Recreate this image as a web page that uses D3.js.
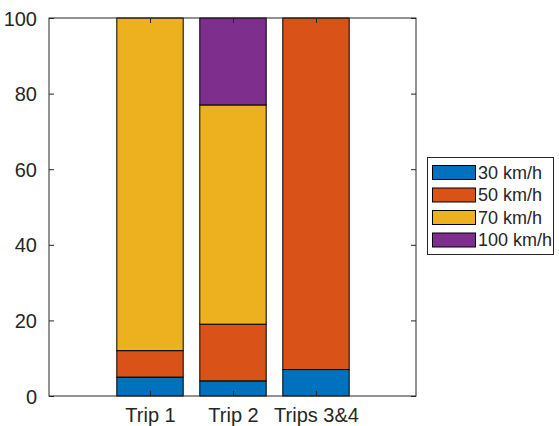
<!DOCTYPE html>
<html><head><meta charset="utf-8">
<script src="https://cdn.jsdelivr.net/npm/d3@7"></script>
<style>body{margin:0;background:#fff}svg{display:block}text{font-family:"Liberation Sans",Arial,sans-serif}</style>
</head><body><svg id="c" width="559" height="426"></svg>
<script>
const categories = ["Trip 1", "Trip 2", "Trips 3&4"];
const seriesNames = ["30 km/h", "50 km/h", "70 km/h", "100 km/h"];
const s30 = [5, 4, 7];
const s50 = [7, 15, 93];
const s70 = [88, 58, 0];
const s100 = [0, 23, 0];
const yTicks = [0, 20, 40, 60, 80, 100];
const colors = ["#0072BD", "#D95319", "#EDB120", "#7E2F8E"];

const svg = d3.select("#c");
const L = 49, R = 416, T = 18, B = 396;
const x = d3.scaleLinear().domain([-0.217, 4.205]).range([L, R]);
const y = d3.scaleLinear().domain([0, 100]).range([B, T]);
const ax = "#262626";
const series = [s30, s50, s70, s100];
const rows = categories.map((c, i) => {
  const o = {cat: c, idx: i + 1};
  seriesNames.forEach((n, k) => o[n] = series[k][i]);
  return o;
});
const stacked = d3.stack().keys(seriesNames)(rows);
const bw = 0.8;
stacked.forEach((layer, k) => {
  svg.append("g").selectAll("rect").data(layer.filter(d => d[1] - d[0] > 0)).join("rect")
    .attr("x", d => x(d.data.idx - bw / 2))
    .attr("width", d => x(d.data.idx + bw / 2) - x(d.data.idx - bw / 2))
    .attr("y", d => y(d[1]))
    .attr("height", d => y(d[0]) - y(d[1]))
    .attr("fill", colors[k]).attr("stroke", "#000").attr("stroke-width", 1);
});
// box
svg.append("rect").attr("x", L).attr("y", T).attr("width", R - L).attr("height", B - T)
  .attr("fill", "none").attr("stroke", ax).attr("stroke-width", 1);
// y axis left & right
const yl = svg.append("g").attr("transform", `translate(${L},0)`)
  .call(d3.axisLeft(y).tickValues(yTicks).tickSizeInner(-5).tickSizeOuter(0).tickPadding(12));
const yr = svg.append("g").attr("transform", `translate(${R},0)`)
  .call(d3.axisRight(y).tickValues(yTicks).tickSizeInner(-5).tickSizeOuter(0).tickFormat(""));
const xb = svg.append("g").attr("transform", `translate(0,${B})`)
  .call(d3.axisBottom(x).tickValues([1, 2, 3]).tickFormat(d => categories[d - 1]).tickSizeInner(-5).tickSizeOuter(0).tickPadding(12));
const xt = svg.append("g").attr("transform", `translate(0,${T})`)
  .call(d3.axisTop(x).tickValues([1, 2, 3]).tickSizeInner(-5).tickSizeOuter(0).tickFormat(""));
[yl, yr, xb, xt].forEach(g => {
  g.select(".domain").remove();
  g.selectAll("line").attr("stroke", ax);
  g.selectAll("text").attr("fill", ax).style("font-size", "20px");
});
yl.selectAll("text").attr("dy", "0.35em");
xb.selectAll("text").attr("dy", "0.71em");
// legend
const lg = svg.append("g");
lg.append("rect").attr("x", 427.5).attr("y", 157.5).attr("width", 126).attr("height", 97)
  .attr("fill", "#fff").attr("stroke", ax).attr("stroke-width", 1);
seriesNames.forEach((n, k) => {
  const cy = 172.5 + k * 22.5;
  lg.append("rect").attr("x", 432.5).attr("y", cy - 7).attr("width", 43).attr("height", 14)
    .attr("fill", colors[k]).attr("stroke", "#000").attr("stroke-width", 1);
  lg.append("text").attr("x", 478).attr("y", cy).attr("dy", "0.35em")
    .attr("fill", ax).style("font-size", "18px").text(n);
});
</script></body></html>
